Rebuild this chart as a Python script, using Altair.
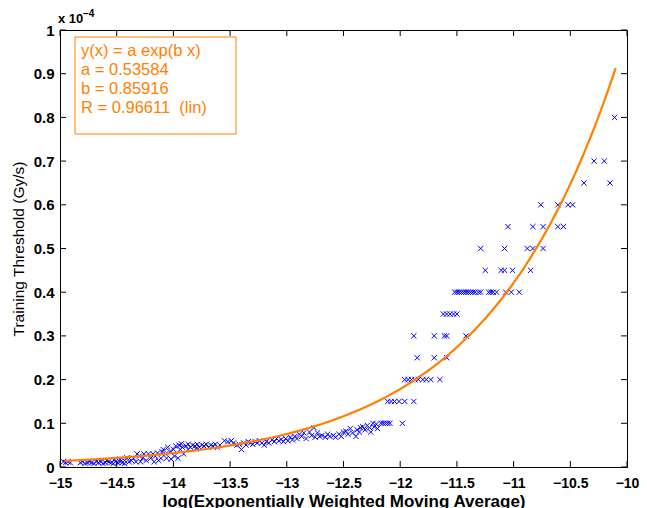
import altair as alt
import pandas as pd
import numpy as np

# Measured points (x: log EWMA, y: threshold in units of 1e-4 Gy/s)
x_vals = [
    -14.97, -14.95, -14.93, -14.91,
    -14.82, -14.80, -14.78, -14.76, -14.74, -14.72, -14.70, -14.68, -14.66, -14.64,
    -14.62, -14.60, -14.57, -14.55, -14.53, -14.51, -14.49, -14.47, -14.45, -14.43,
    -14.59, -14.52, -14.47, -14.43, -14.41,
    -14.39, -14.37, -14.35, -14.33, -14.32, -14.30, -14.29, -14.27, -14.26, -14.24,
    -14.22, -14.20, -14.18, -14.17, -14.16, -14.14, -14.13, -14.11, -14.10,
    -14.09, -14.07, -14.06, -14.05, -14.03, -14.02, -14.00, -13.99, -13.98, -13.96,
    -13.95, -13.94, -13.93, -13.92, -13.91,
    -13.89, -13.87, -13.85, -13.83, -13.81, -13.79, -13.77, -13.75, -13.73, -13.71,
    -13.69, -13.67, -13.65, -13.63, -13.61, -13.59, -13.87, -13.80,
    -13.55, -13.52, -13.49, -13.47, -13.44, -13.42, -13.40, -13.38, -13.36, -13.34,
    -13.32, -13.30, -13.28, -13.26, -13.24, -13.22, -13.20, -13.18, -13.16,
    -13.13, -13.11, -13.09, -13.07, -13.05, -13.03, -13.01, -12.99, -12.97, -12.95,
    -12.93, -12.91,
    -12.89, -12.87, -12.85, -12.83, -12.80, -12.78, -12.76, -12.75, -12.73, -12.71,
    -12.69, -12.66, -12.64, -12.62, -12.59, -12.57, -12.54, -12.52, -12.50,
    -12.48, -12.46, -12.44, -12.42, -12.39, -12.38, -12.36, -12.35,
    -12.33, -12.31, -12.29, -12.27, -12.26, -12.24, -12.23, -12.21, -12.20,
    -12.17, -12.15, -12.13, -12.11, -12.09, -11.98,
    -12.11, -12.08, -12.05, -12.01, -11.96, -11.88,
    -11.96, -11.93, -11.90, -11.87, -11.84, -11.80, -11.77, -11.73, -11.65,
    -11.85, -11.70, -11.59,
    -11.88, -11.70, -11.61, -11.59, -11.42,
    -11.62, -11.59, -11.56, -11.53, -11.50,
    -11.52, -11.50, -11.48, -11.46, -11.44, -11.42, -11.40, -11.38, -11.36, -11.34,
    -11.31, -11.29, -11.22, -11.20, -11.18, -11.15, -11.07, -11.02, -10.95,
    -11.25, -11.11, -11.08, -11.01, -10.85,
    -11.29, -11.08, -10.88, -10.83, -10.74,
    -11.05, -10.83, -10.74, -10.61, -10.56,
    -10.76, -10.61, -10.52, -10.48,
    -10.38, -10.15,
    -10.29, -10.20,
    -10.11,
]
y_vals = [
    0.012, 0.010, 0.012, 0.010,
    0.010, 0.012, 0.008, 0.010, 0.012, 0.010, 0.008, 0.012, 0.010, 0.012,
    0.008, 0.010, 0.012, 0.010, 0.008, 0.012, 0.010, 0.012, 0.010, 0.008,
    0.015, 0.016, 0.018, 0.015, 0.021,
    0.012, 0.015, 0.020, 0.012, 0.030, 0.025, 0.012, 0.020, 0.030, 0.015,
    0.030, 0.020, 0.030, 0.012, 0.025, 0.032, 0.015, 0.020, 0.035,
    0.040, 0.030, 0.020, 0.045, 0.035, 0.018, 0.040, 0.025, 0.048, 0.020,
    0.050, 0.040, 0.053, 0.045, 0.030,
    0.048, 0.052, 0.045, 0.050, 0.048, 0.052, 0.045, 0.050, 0.048, 0.052,
    0.045, 0.050, 0.048, 0.052, 0.045, 0.050, 0.040, 0.042,
    0.060, 0.058, 0.060, 0.055, 0.050, 0.052, 0.040, 0.055, 0.050, 0.058,
    0.055, 0.052, 0.058, 0.055, 0.060, 0.055, 0.050, 0.058, 0.055,
    0.062, 0.058, 0.065, 0.060, 0.063, 0.058, 0.065, 0.060, 0.068, 0.062,
    0.070, 0.065,
    0.075, 0.070, 0.078, 0.065, 0.080, 0.072, 0.090, 0.068, 0.078, 0.070,
    0.072, 0.068, 0.075, 0.070, 0.072, 0.068, 0.075, 0.070, 0.080,
    0.082, 0.075, 0.088, 0.078, 0.070, 0.085, 0.080, 0.090,
    0.092, 0.085, 0.095, 0.090, 0.080, 0.100, 0.092, 0.098, 0.088,
    0.10, 0.10, 0.10, 0.10, 0.10, 0.10,
    0.15, 0.15, 0.15, 0.15, 0.15, 0.15,
    0.20, 0.20, 0.20, 0.20, 0.20, 0.20, 0.20, 0.20, 0.20,
    0.25, 0.25, 0.25,
    0.30, 0.30, 0.30, 0.30, 0.30,
    0.35, 0.35, 0.35, 0.35, 0.35,
    0.40, 0.40, 0.40, 0.40, 0.40, 0.40, 0.40, 0.40, 0.40, 0.40,
    0.40, 0.40, 0.40, 0.40, 0.40, 0.40, 0.40, 0.40, 0.40,
    0.45, 0.45, 0.45, 0.45, 0.45,
    0.50, 0.50, 0.50, 0.50, 0.50,
    0.55, 0.55, 0.55, 0.55, 0.55,
    0.60, 0.60, 0.60, 0.60,
    0.65, 0.65,
    0.70, 0.70,
    0.80,
]

# Fit parameters shown in the chart's annotation: y(x) = a exp(b x)  (y in units of 1e-4)
fit_a = 0.53584
fit_b = 0.85916
fit_R = 0.96611
fit_x_range = [-14.96, -10.1]
y_unit = 1e-4

x_ticks = [-15, -14.5, -14, -13.5, -13, -12.5, -12, -11.5, -11, -10.5, -10]
y_ticks = [0, 0.1, 0.2, 0.3, 0.4, 0.5, 0.6, 0.7, 0.8, 0.9, 1]

legend_lines = [
    "y(x) = a exp(b x)",
    f"a = {fit_a:.5f}",
    f"b = {fit_b:.5f}",
    f"R = {fit_R:.5f}\u00a0 (lin)",
]

pts = pd.DataFrame({"x": x_vals, "y": y_vals})
cx = np.linspace(fit_x_range[0], fit_x_range[1], 300)
curve = pd.DataFrame({"x": cx, "y": fit_a * np.exp(fit_b * cx) / y_unit})

W, H = 567, 437
FONT = "Liberation Sans Narrow, Liberation Sans, Arial, sans-serif"
REG = "Liberation Sans, Arial, sans-serif"
ORANGE = "#ff8000"

xs = alt.Scale(domain=[-15, -10], nice=False, zero=False)
ys = alt.Scale(domain=[0, 1], nice=False, zero=False)

xaxis = alt.Axis(values=x_ticks, format="~g", title="log(Exponentially Weighted Moving Average)",
                 grid=False, ticks=False, domain=False, labelPadding=9, labelFlush=False,
                 labelFont=FONT, labelFontSize=14, labelFontWeight="bold", labelColor="black",
                 titleFont=FONT, titleFontWeight="bold", titleFontSize=17, titlePadding=3,
                 titleColor="black")
yaxis = alt.Axis(values=y_ticks, format="~g", title="Training Threshold (Gy/s)",
                 grid=False, ticks=False, domain=False, labelPadding=6, labelFlush=False,
                 labelFont=FONT, labelFontSize=15, labelFontWeight="bold", labelColor="black",
                 titleFont=REG, titleFontWeight="normal", titleFontSize=15.5, titlePadding=7,
                 titleColor="black")

scatter = alt.Chart(pts).mark_point(
    shape="M-1,-1L1,1M-1,1L1,-1", filled=False, color="#0000ff",
    size=28, strokeWidth=1, opacity=1
).encode(x=alt.X("x:Q", scale=xs, axis=xaxis), y=alt.Y("y:Q", scale=ys, axis=yaxis))

fit = alt.Chart(curve).mark_line(color=ORANGE, strokeWidth=2.2).encode(x="x:Q", y="y:Q")

xt = pd.DataFrame({"x": x_ticks})
yt = pd.DataFrame({"y": y_ticks})
tick_b = alt.Chart(xt).mark_rule(color="black").encode(x="x:Q", y=alt.value(H), y2=alt.value(H - 6))
tick_t = alt.Chart(xt).mark_rule(color="black").encode(x="x:Q", y=alt.value(0), y2=alt.value(6))
tick_l = alt.Chart(yt).mark_rule(color="black").encode(y="y:Q", x=alt.value(0), x2=alt.value(6))
tick_r = alt.Chart(yt).mark_rule(color="black").encode(y="y:Q", x=alt.value(W), x2=alt.value(W - 6))

one = pd.DataFrame({"k": [0]})
box = alt.Chart(one).mark_rect(fill="white", stroke=ORANGE, strokeWidth=1).encode(
    x=alt.value(15), x2=alt.value(176), y=alt.value(7), y2=alt.value(104))
legend_text = alt.Chart(one).mark_text(
    text=legend_lines, align="left", baseline="middle", color=ORANGE,
    font=REG, fontSize=16.5, lineHeight=19
).encode(x=alt.value(21), y=alt.value(21))

exp_base = alt.Chart(one).mark_text(text="x 10", align="left", baseline="alphabetic",
                                    font=FONT, fontSize=13, fontWeight="bold", color="black"
                                    ).encode(x=alt.value(-2), y=alt.value(-7))
exp_sup = alt.Chart(one).mark_text(text="\u22124", align="left", baseline="alphabetic",
                                   font=FONT, fontSize=10, fontWeight="bold", color="black"
                                   ).encode(x=alt.value(23), y=alt.value(-13))

chart = alt.layer(scatter, fit, tick_b, tick_t, tick_l, tick_r, box, legend_text, exp_base, exp_sup).properties(
    width=W, height=H,
    background="white",
    autosize=alt.AutoSizeParams(type="none"),
    padding={"left": 52, "top": 22, "right": 12, "bottom": 44},
).configure_view(stroke="black", strokeWidth=1)

chart.save("out.html", embed_options={"renderer": "svg", "actions": False})
